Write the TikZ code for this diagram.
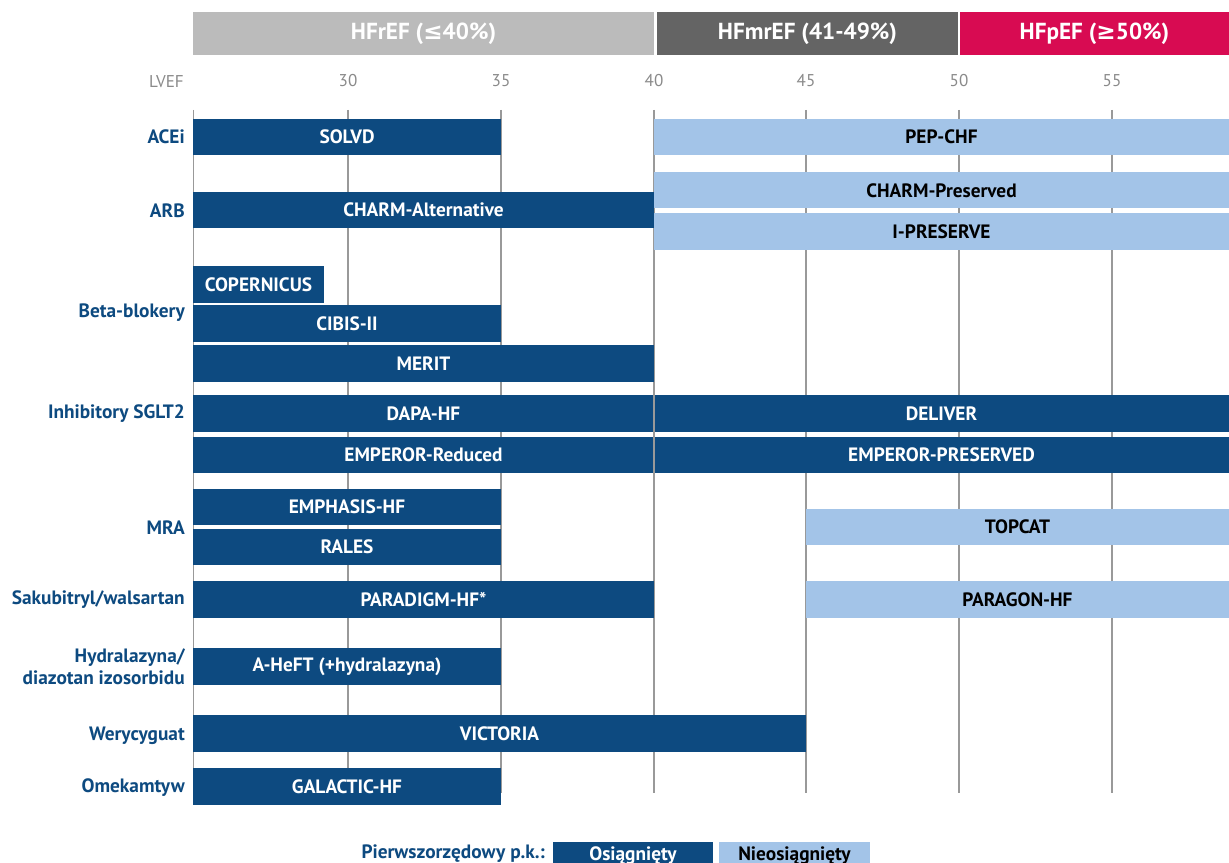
\documentclass[tikz,border=0pt]{standalone}
\usepackage{fontspec}
\setmainfont{PT Sans}
\newfontfamily\symf{DejaVu Sans}
\definecolor{dblue}{HTML}{0D4A80}
\definecolor{lblue}{HTML}{A3C4E8}
\definecolor{hgrey}{HTML}{BBBBBB}
\definecolor{hdark}{HTML}{646464}
\definecolor{hpink}{HTML}{D80B52}
\definecolor{gline}{HTML}{999999}
\definecolor{tgrey}{HTML}{8A8A8A}
\tikzset{
  darkfill/.style={fill=dblue},
  lightfill/.style={fill=lblue},
  darktext/.style={text=white,font=\bfseries\fontsize{14.5}{16}\selectfont,inner sep=0pt},
  lighttext/.style={text=black,font=\bfseries\fontsize{14.5}{16}\selectfont,inner sep=0pt},
  cat/.style={text=dblue,font=\bfseries\fontsize{14.5}{16.5}\selectfont,anchor=east,align=right,inner sep=0pt},
  tick/.style={text=tgrey,font=\fontsize{12.8}{14}\selectfont,inner sep=0pt},
  hdr/.style={text=white,font=\bfseries\fontsize{17.4}{19}\selectfont,inner sep=0pt},
  grid/.style={draw=gline,line width=0.9pt},
}
% \barbox{name}{x1}{y1}{x2}{y2}{fill style}{text style}{text}
\newcommand{\barbox}[8]{%
  \fill[#6] (#2,#3) rectangle (#4,#5);
  \node[#7] (#1) at ({(#2+#4)/2},{(#3+#5)/2}) {#8};}
\begin{document}
\begin{tikzpicture}[x=0.75pt,y=-0.75pt]
\useasboundingbox[fill=white] (0,0) rectangle (1229,863);
% header bands
\barbox{hfref}{193}{12}{654}{55}{fill=hgrey}{hdr}{HFrEF ({\symf\bfseries ≤}40\%)}
\barbox{hfmref}{657}{12}{958}{55}{fill=hdark}{hdr}{HFmrEF (41-49\%)}
\barbox{hfpef}{960}{12}{1229}{55}{fill=hpink}{hdr}{HFpEF ({\symf\bfseries ≥}50\%)}
% axis labels
\node[tick,anchor=east] (lvef) at (184,82) {LVEF};
\node[tick] (t30) at (348,81) {30};
\node[tick] (t35) at (501,81) {35};
\node[tick] (t40) at (654,81) {40};
\node[tick] (t45) at (806,81) {45};
\node[tick] (t50) at (959,81) {50};
\node[tick] (t55) at (1112,81) {55};
% grid lines
\foreach \gx in {193.5,348,501,654,806,959,1112}
  \draw[grid] (\gx,110) -- (\gx,793);
% category labels
\node[cat] (c1) at (185,137) {ACEi};
\node[cat] (c2) at (185,211) {ARB};
\node[cat] (c3) at (185,313) {Beta-blokery};
\node[cat] (c4) at (185,414) {Inhibitory SGLT2};
\node[cat] (c5) at (185,528) {MRA};
\node[cat] (c6) at (185,600) {Sakubitryl/walsartan};
\node[cat] (c7) at (185,667) {Hydralazyna/\\diazotan izosorbidu};
\node[cat] (c8) at (185,736) {Werycyguat};
\node[cat] (c9) at (185,788) {Omekamtyw};
% bars
\barbox{solvd}{193}{119}{501}{155}{darkfill}{darktext}{SOLVD}
\barbox{pepchf}{654}{119}{1229}{155}{lightfill}{lighttext}{PEP-CHF}
\barbox{charmalt}{193}{192}{654}{228}{darkfill}{darktext}{CHARM-Alternative}
\barbox{charmpres}{654}{172}{1229}{208.5}{lightfill}{lighttext}{CHARM-Preserved}
\barbox{ipreserve}{654}{213}{1229}{250}{lightfill}{lighttext}{I-PRESERVE}
\barbox{copernicus}{193}{266}{324}{302.5}{darkfill}{darktext}{COPERNICUS}
\barbox{cibis}{193}{305}{501}{342}{darkfill}{darktext}{CIBIS-II}
\barbox{merit}{193}{345}{654}{382}{darkfill}{darktext}{MERIT}
\barbox{dapa}{193}{395}{654}{432}{darkfill}{darktext}{DAPA-HF}
\barbox{deliver}{654}{395}{1229}{432}{darkfill}{darktext}{DELIVER}
\barbox{empred}{193}{437}{654}{473}{darkfill}{darktext}{EMPEROR-Reduced}
\barbox{emppres}{654}{437}{1229}{473}{darkfill}{darktext}{EMPEROR-PRESERVED}
\draw[grid] (654,395) -- (654,473);
\barbox{emphasis}{193}{489}{501}{525}{darkfill}{darktext}{EMPHASIS-HF}
\barbox{rales}{193}{529}{501}{565}{darkfill}{darktext}{RALES}
\barbox{topcat}{806}{509}{1229}{545}{lightfill}{lighttext}{TOPCAT}
\barbox{paradigm}{193}{581}{654}{618}{darkfill}{darktext}{PARADIGM-HF*}
\barbox{paragon}{806}{581}{1229}{618}{lightfill}{lighttext}{PARAGON-HF}
\barbox{aheft}{193}{648}{501}{685}{darkfill}{darktext}{A-HeFT (+hydralazyna)}
\barbox{victoria}{193}{715}{806}{752}{darkfill}{darktext}{VICTORIA}
\barbox{galactic}{193}{768}{501}{805}{darkfill}{darktext}{GALACTIC-HF}
% legend
\node[cat] (leg) at (545,854) {Pierwszorzędowy p.k.:};
\barbox{legdone}{553}{842}{713}{870}{darkfill}{darktext}{Osiągnięty}
\barbox{legnot}{719}{842}{870}{870}{lightfill}{lighttext}{Nieosiągnięty}
\end{tikzpicture}
\end{document}
